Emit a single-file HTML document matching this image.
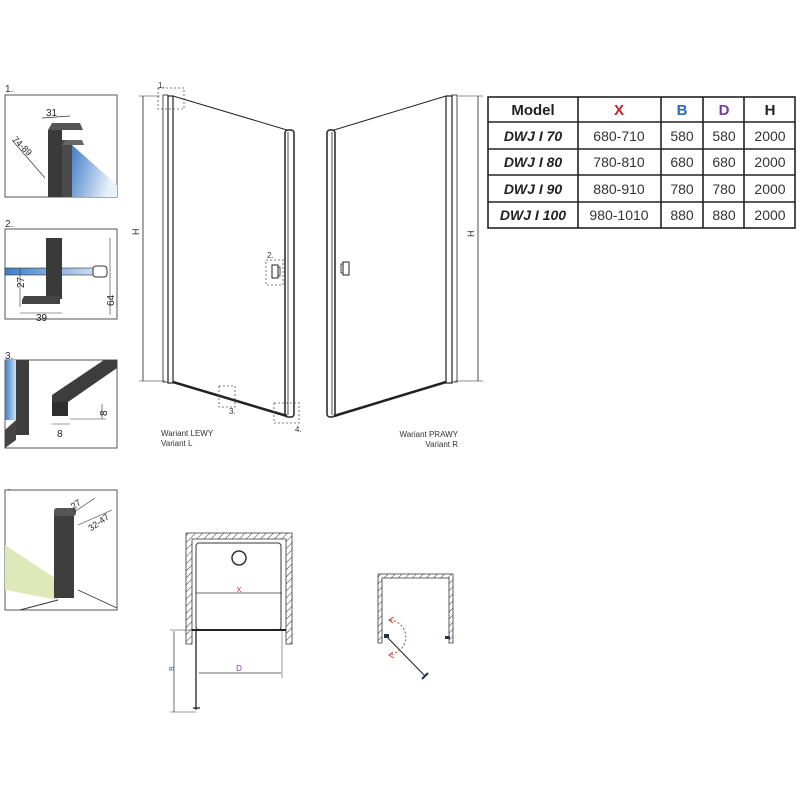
<!DOCTYPE html>
<html><head><meta charset="utf-8"><style>
body{margin:0;background:#fff}
svg{display:block}
text{font-family:"Liberation Sans",sans-serif}
</style></head><body>
<svg width="800" height="800" viewBox="0 0 800 800" xmlns="http://www.w3.org/2000/svg">
<defs>
<linearGradient id="gl" x1="0" y1="0" x2="1" y2="0.3"><stop offset="0" stop-color="#2e6fc0"/><stop offset="1" stop-color="#e8f1fa"/></linearGradient>
<linearGradient id="gl2" x1="0" y1="0" x2="1" y2="0"><stop offset="0" stop-color="#3c7cc8"/><stop offset="1" stop-color="#cfe0f2"/></linearGradient>
<pattern id="hatch" width="5" height="5" patternUnits="userSpaceOnUse" patternTransform="rotate(45)"><line x1="0" y1="0" x2="0" y2="5" stroke="#333" stroke-width="1"/></pattern>
</defs>
<g font-size="10" fill="#333">
<text x="5" y="92">1.</text><text x="5" y="227">2.</text><text x="5" y="359">3.</text><text x="5" y="496">4.</text>
</g>
<!-- panel 1 -->
<rect x="5" y="95" width="112" height="102" fill="#fff" stroke="#555"/>
<polygon points="66,150 72,145 117,185 117,197 70,197" fill="url(#gl)"/>
<rect x="48" y="130" width="14" height="67" fill="#3a3a3a"/>
<rect x="62" y="140" width="10" height="57" fill="#4a4a4a"/>
<polygon points="48,130 52,123 80,123 83,130 62,130" fill="#555"/>
<polygon points="62,145 66,140 82,140 84,145" fill="#666"/>
<line x1="42" y1="118" x2="70" y2="116" stroke="#333" stroke-width="0.7"/>
<text x="46" y="116" font-size="10" fill="#222">31</text>
<line x1="12" y1="140" x2="45" y2="178" stroke="#333" stroke-width="0.7"/>
<text x="12" y="140" font-size="9" fill="#222" transform="rotate(45 12 140)">74-89</text>
<!-- panel 2 -->
<rect x="5" y="229" width="112" height="90" fill="#fff" stroke="#555"/>
<rect x="5" y="268" width="92" height="7" fill="url(#gl2)" stroke="#333" stroke-width="0.6"/>
<rect x="93" y="266" width="14" height="11" rx="3" fill="#fff" stroke="#333"/>
<rect x="46" y="238" width="16" height="61" fill="#3a3a3a"/>
<polygon points="22,300 24,296 60,296 60,304 22,304" fill="#444"/>
<line x1="20" y1="307" x2="20" y2="268" stroke="#333" stroke-width="0.6"/>
<line x1="20" y1="313" x2="62" y2="313" stroke="#333" stroke-width="0.6"/>
<line x1="110" y1="238" x2="110" y2="315" stroke="#333" stroke-width="0.6"/>
<text x="19" y="297" font-size="10" fill="#222" transform="rotate(-90 17 290)">27</text>
<text x="36" y="321" font-size="10" fill="#222">39</text>
<text x="112" y="316" font-size="10" fill="#222" transform="rotate(-90 108 310)">64</text>
<!-- panel 3 -->
<rect x="5" y="360" width="112" height="88" fill="#fff" stroke="#555"/>
<rect x="5" y="360" width="11" height="60" fill="url(#gl2)"/>
<rect x="16" y="360" width="13" height="75" fill="#3d3d3d"/>
<polygon points="5,430 16,420 16,440 5,448" fill="#444"/>
<polygon points="52,395 104,360 117,360 117,368 68,402 52,402" fill="#3d3d3d"/>
<rect x="52" y="402" width="16" height="14" fill="#2f2f2f"/>
<line x1="70" y1="419" x2="106" y2="419" stroke="#333" stroke-width="0.6"/>
<line x1="102" y1="404" x2="102" y2="419" stroke="#333" stroke-width="0.6"/>
<line x1="52" y1="424" x2="70" y2="424" stroke="#333" stroke-width="0.6"/>
<text x="99" y="416" font-size="10" fill="#222" transform="rotate(-90 103 412)">8</text>
<text x="57" y="437" font-size="10" fill="#222">8</text>
<!-- panel 4 -->
<rect x="5" y="490" width="112" height="120" fill="#fff" stroke="#555"/>
<polygon points="5,545 58,580 58,600 5,590" fill="#dfe8b8"/>
<line x1="58" y1="600" x2="20" y2="610" stroke="#333"/>
<line x1="78" y1="590" x2="117" y2="608" stroke="#333" stroke-width="0.7"/>
<rect x="54" y="512" width="20" height="86" fill="#3d3d3d"/>
<rect x="54" y="508" width="22" height="8" rx="3" fill="#555"/>
<line x1="74" y1="512" x2="95" y2="498" stroke="#333" stroke-width="0.6"/>
<line x1="78" y1="525" x2="112" y2="510" stroke="#333" stroke-width="0.6"/>
<text x="72" y="505" font-size="9" fill="#222" transform="rotate(-35 80 505)">27</text>
<text x="88" y="528" font-size="9" fill="#222" transform="rotate(-35 95 525)">32-47</text>

<!-- left door -->
<g stroke="#222" fill="none">
<line x1="143" y1="96" x2="143" y2="381" stroke-width="0.8"/>
<line x1="139" y1="96" x2="160" y2="96" stroke-width="0.6"/>
<line x1="139" y1="381" x2="165" y2="381" stroke-width="0.6"/>
<rect x="163" y="95" width="5" height="287" stroke-width="0.8"/>
<rect x="168" y="96" width="5" height="287" stroke-width="1.2"/>
<line x1="173" y1="96" x2="287" y2="130" stroke-width="1"/>
<line x1="173" y1="382" x2="287" y2="416" stroke-width="2.5"/>
<rect x="285" y="130" width="9" height="287" rx="3" stroke-width="1.5"/>
<line x1="288" y1="132" x2="288" y2="415" stroke-width="0.8"/>
<rect x="272" y="265" width="6" height="13" stroke-width="1"/>
<rect x="278" y="267" width="2" height="9" stroke-width="0.8"/>
<g stroke-dasharray="2,2" stroke="#555" stroke-width="0.8">
<rect x="158" y="88" width="26" height="21"/>
<rect x="266" y="260" width="17" height="25"/>
<rect x="219" y="386" width="16" height="21"/>
<rect x="274" y="403" width="25" height="20"/>
</g>
</g>
<text x="132" y="234" font-size="9" fill="#333" transform="rotate(-90 136 231)">H</text>
<g font-size="8" fill="#333"><text x="158" y="88">1.</text><text x="267" y="258">2.</text><text x="229" y="414">3.</text><text x="295" y="432">4.</text></g>
<text x="161" y="436" font-size="8" fill="#333">Wariant LEWY</text>
<text x="161" y="446" font-size="8" fill="#333">Variant L</text>

<!-- right door -->
<g stroke="#222" fill="none">
<line x1="478" y1="96" x2="478" y2="381" stroke-width="0.8"/>
<line x1="458" y1="96" x2="483" y2="96" stroke-width="0.6"/>
<line x1="455" y1="381" x2="483" y2="381" stroke-width="0.6"/>
<rect x="452" y="95" width="5" height="287" stroke-width="0.8"/>
<rect x="446" y="96" width="6" height="287" stroke-width="1.2"/>
<line x1="446" y1="96" x2="334" y2="130" stroke-width="1"/>
<line x1="446" y1="382" x2="334" y2="416" stroke-width="2.5"/>
<rect x="327" y="130" width="8" height="287" rx="3" stroke-width="1.5"/>
<line x1="332" y1="132" x2="332" y2="415" stroke-width="0.8"/>
<rect x="343" y="262" width="6" height="13" stroke-width="1"/>
<rect x="341" y="264" width="2" height="9" stroke-width="0.8"/>
</g>
<text x="467" y="236" font-size="9" fill="#333" transform="rotate(-90 471 233)">H</text>
<text x="458" y="437" font-size="8" fill="#333" text-anchor="end">Wariant PRAWY</text>
<text x="458" y="447" font-size="8" fill="#333" text-anchor="end">Variant R</text>

<!-- table -->
<g stroke="#222" stroke-width="1.6" fill="none">
<rect x="488" y="97" width="307" height="131"/>
<line x1="578" y1="97" x2="578" y2="228"/><line x1="661" y1="97" x2="661" y2="228"/>
<line x1="703" y1="97" x2="703" y2="228"/><line x1="744" y1="97" x2="744" y2="228"/>
<line x1="488" y1="122" x2="795" y2="122"/><line x1="488" y1="149" x2="795" y2="149"/>
<line x1="488" y1="175" x2="795" y2="175"/><line x1="488" y1="202" x2="795" y2="202"/>
</g>
<g font-size="15" font-weight="bold" text-anchor="middle">
<text x="533" y="115" fill="#222">Model</text>
<text x="619" y="115" fill="#c8202a">X</text>
<text x="682" y="115" fill="#2a6bb5">B</text>
<text x="724" y="115" fill="#7b3aa0">D</text>
<text x="770" y="115" fill="#222">H</text>
</g>
<g font-size="14" font-weight="bold" font-style="italic" fill="#222" text-anchor="middle">
<text x="533" y="141">DWJ I 70</text><text x="533" y="167">DWJ I 80</text>
<text x="533" y="194">DWJ I 90</text><text x="533" y="220">DWJ I 100</text>
</g>
<g font-size="14" fill="#333" text-anchor="middle">
<text x="619" y="141">680-710</text><text x="682" y="141">580</text><text x="724" y="141">580</text><text x="770" y="141">2000</text>
<text x="619" y="167">780-810</text><text x="682" y="167">680</text><text x="724" y="167">680</text><text x="770" y="167">2000</text>
<text x="619" y="194">880-910</text><text x="682" y="194">780</text><text x="724" y="194">780</text><text x="770" y="194">2000</text>
<text x="619" y="220">980-1010</text><text x="682" y="220">880</text><text x="724" y="220">880</text><text x="770" y="220">2000</text>
</g>

<!-- bottom plan left -->
<path d="M186,644 V533 H292 V644 H286 V539 H192 V644 Z" fill="url(#hatch)" stroke="#333" stroke-width="0.8"/>
<rect x="196" y="543" width="85" height="87" rx="3" fill="none" stroke="#333" stroke-width="1"/>
<circle cx="239" cy="558" r="7" fill="none" stroke="#333" stroke-width="1.5"/>
<line x1="196" y1="593" x2="282" y2="593" stroke="#333" stroke-width="0.7"/>
<text x="239" y="592" font-size="7" fill="#c8202a" text-anchor="middle">X</text>
<line x1="192" y1="630" x2="286" y2="630" stroke="#222" stroke-width="2"/>
<line x1="196" y1="630" x2="196" y2="710" stroke="#222" stroke-width="1.3"/>
<line x1="193" y1="708" x2="200" y2="708" stroke="#222" stroke-width="1.3"/>
<line x1="174" y1="631" x2="174" y2="712" stroke="#333" stroke-width="0.7"/>
<line x1="170" y1="630" x2="196" y2="630" stroke="#333" stroke-width="0.5"/>
<line x1="170" y1="712" x2="196" y2="712" stroke="#333" stroke-width="0.5"/>
<text x="171" y="674" font-size="7" fill="#2a6bb5" transform="rotate(-90 171 671)">B</text>
<line x1="199" y1="673" x2="281" y2="673" stroke="#333" stroke-width="0.7"/>
<line x1="282" y1="630" x2="282" y2="678" stroke="#333" stroke-width="0.5"/>
<text x="239" y="671" font-size="8" fill="#7b3aa0" text-anchor="middle">D</text>

<!-- bottom plan right -->
<path d="M378,643 V574 H453 V643 H449 V578 H382 V643 Z" fill="url(#hatch)" stroke="#333" stroke-width="0.8"/>
<line x1="387" y1="637" x2="425" y2="676" stroke="#333" stroke-width="1.2"/>
<rect x="384" y="634" width="5" height="4" fill="#234"/>
<line x1="422" y1="679" x2="428" y2="673" stroke="#234" stroke-width="2"/>
<rect x="445" y="636" width="5" height="3" fill="#234"/>
<path d="M390,620 C410,622 412,650 390,655" fill="none" stroke="#d04040" stroke-width="1" stroke-dasharray="2,2"/>
<path d="M394,617 l-5,3 l4,3 M394,658 l-5,-3 l4,-3" fill="none" stroke="#d04040" stroke-width="1"/>
</svg>
</body></html>
